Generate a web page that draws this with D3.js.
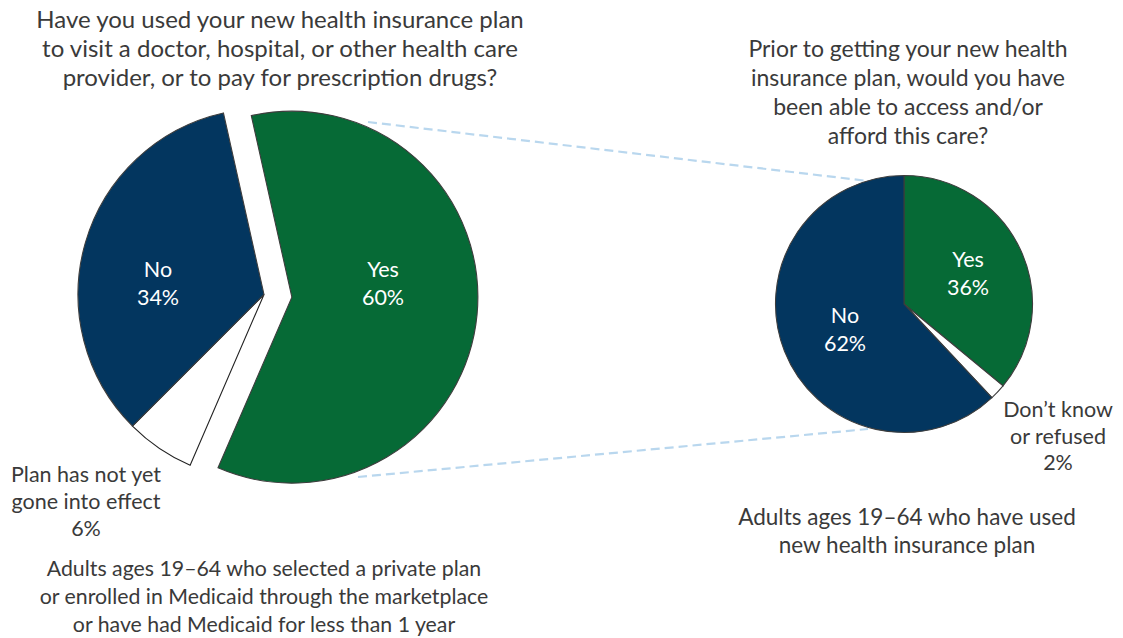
<!DOCTYPE html>
<html>
<head>
<meta charset="utf-8">
<script src="https://cdn.jsdelivr.net/npm/d3@7"></script>
<style>
  html, body { margin: 0; padding: 0; background: #fff; }
  svg { display: block; font-family: Lato, "Open Sans", sans-serif; }
</style>
</head>
<body>
<svg id="chart" width="1123" height="638"></svg>
<script>
// Left pie: used new plan for care?
const usedCategories = ["Yes", "Plan has not yet gone into effect", "No"];
const usedValues = [60, 6, 34];
// Right pie: could have accessed/afforded care before?
const priorCategories = ["Yes", "Don\u2019t know or refused", "No"];
const priorValues = [36, 2, 62];

const titleLeft = ["Have you used your new health insurance plan",
                   "to visit a doctor, hospital, or other health care",
                   "provider, or to pay for prescription drugs?"];
const titleRight = ["Prior to getting your new health",
                    "insurance plan, would you have",
                    "been able to access and/or",
                    "afford this care?"];
const baseLeft = ["Adults ages 19\u201364 who selected a private plan",
                  "or enrolled in Medicaid through the marketplace",
                  "or have had Medicaid for less than 1 year"];
const baseRight = ["Adults ages 19\u201364 who have used",
                   "new health insurance plan"];

const colors = { "Yes": "#066a36", "No": "#03365f" };
const sliceColor = name => colors[name] || "#ffffff";
const textColor = "#3a3a3a";

const svg = d3.select("#chart");

function textBlock(lines, x, y, lh, size, fill) {
  const t = svg.append("text")
    .attr("x", x).attr("y", y)
    .attr("text-anchor", "middle")
    .attr("font-size", size)
    .attr("fill", fill || textColor);
  lines.forEach((l, i) => t.append("tspan").attr("x", x).attr("dy", i ? lh : 0).text(l));
  return t;
}

// Connector lines between the exploded slice and the follow-up pie
const connectors = svg.append("g")
  .attr("stroke", "#b9d7ee").attr("stroke-width", 2.2)
  .attr("stroke-dasharray", "9,5").attr("fill", "none");
connectors.append("line").attr("x1", 368).attr("y1", 122).attr("x2", 868).attr("y2", 181);
connectors.append("line").attr("x1", 358).attr("y1", 477).attr("x2", 868).attr("y2", 429);

const deg = Math.PI / 180;

// Left pie
const leftStart = -12.6 * deg;
const leftPie = d3.pie().sort(null).value(d => d.v)
  .startAngle(leftStart).endAngle(leftStart + 2 * Math.PI);
const leftData = leftPie(usedCategories.map((c, i) => ({ c, v: usedValues[i] })));
const leftR = 186;
const leftArc = d3.arc().innerRadius(0).outerRadius(leftR);
const explode = 28;

const gL = svg.append("g").attr("transform", "translate(264,294.5)");
gL.selectAll("path").data(leftData).join("path")
  .attr("d", leftArc)
  .attr("fill", d => sliceColor(d.data.c))
  .attr("stroke", d => d.data.c === "Yes" || d.data.c === "No" ? "#3d3d3d" : "#222")
  .attr("stroke-width", 1.1)
  .attr("stroke-linejoin", "miter")
  .attr("transform", d => {
    if (d.data.c !== "Yes") return null;
    const a = (d.startAngle + d.endAngle) / 2;
    return `translate(${explode * Math.sin(a)},${-explode * Math.cos(a)})`;
  });

// Right pie
const rightPie = d3.pie().sort(null).value(d => d.v).startAngle(0).endAngle(2 * Math.PI);
const rightData = rightPie(priorCategories.map((c, i) => ({ c, v: priorValues[i] })));
const rightArc = d3.arc().innerRadius(0).outerRadius(128.5);
const gR = svg.append("g").attr("transform", "translate(904,304)");
gR.selectAll("path").data(rightData).join("path")
  .attr("d", rightArc)
  .attr("fill", d => sliceColor(d.data.c))
  .attr("stroke", "#3d3d3d")
  .attr("stroke-width", 1.1);

// Titles and bases
textBlock(titleLeft, 280, 27.5, 29, 24);
textBlock(titleRight, 908, 56.5, 29, 23);
textBlock(baseLeft, 264, 576, 28, 21.3);
textBlock(baseRight, 907, 525, 28, 22.5);

// Slice labels
const pct = v => v + "%";
textBlock(["No", pct(usedValues[2])], 158, 277, 28, 21.5, "#fff");
textBlock(["Yes", pct(usedValues[0])], 383, 277, 28, 21.5, "#fff");
textBlock(["Plan has not yet", "gone into effect", pct(usedValues[1])], 86, 482, 27, 21.5);
textBlock(["Yes", pct(priorValues[0])], 968, 267, 28, 21.5, "#fff");
textBlock(["No", pct(priorValues[2])], 845, 323, 28, 21.5, "#fff");
textBlock(["Don\u2019t know", "or refused", pct(priorValues[1])], 1058, 417, 26.5, 21.5);
</script>
</body>
</html>
